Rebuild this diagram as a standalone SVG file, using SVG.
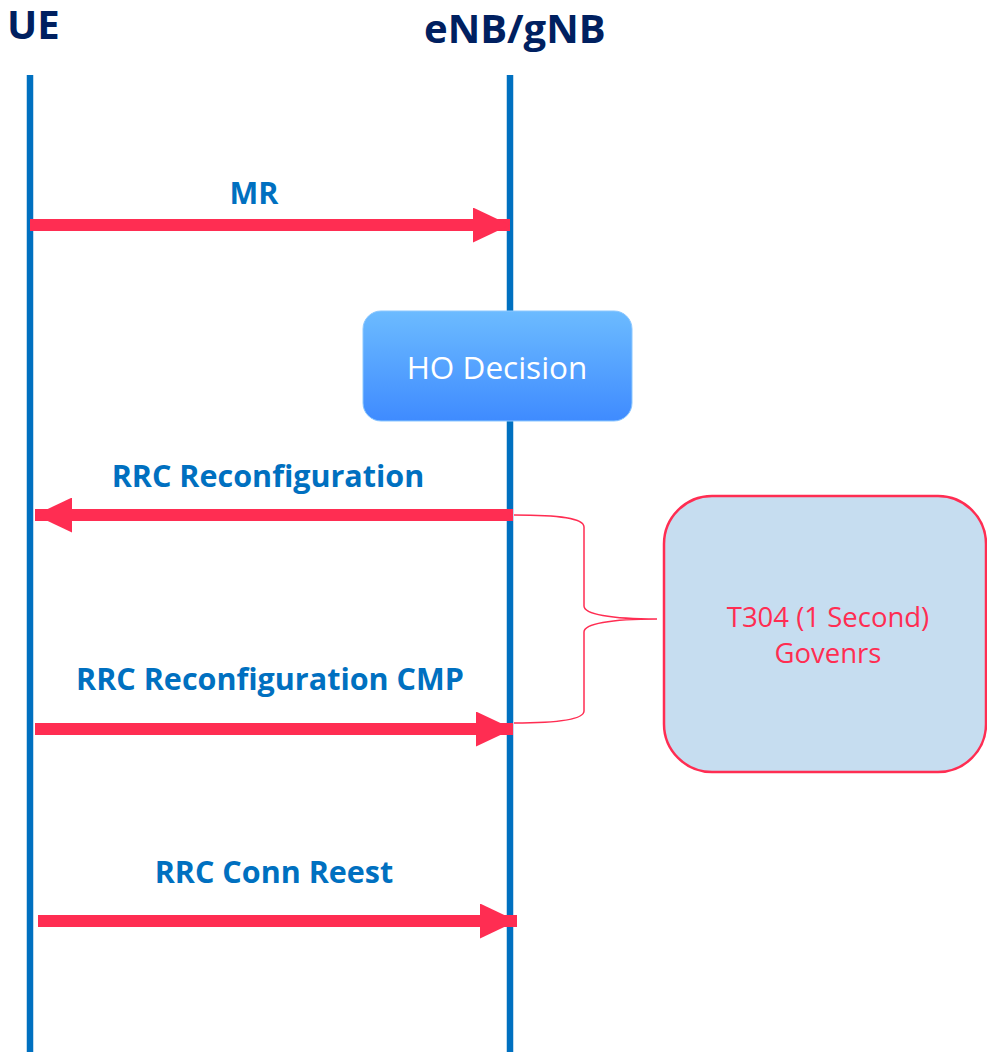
<svg xmlns="http://www.w3.org/2000/svg" width="987" height="1052" viewBox="0 0 987 1052">
<style>
.hdr{font-family:"Open Sans","Liberation Sans",sans-serif;font-weight:bold;font-size:40px;fill:#002060}
.life{stroke:#0070C0;stroke-width:6.5;fill:none}
.msg{stroke:#FF2D52;stroke-width:12;fill:none}
.lbl{font-family:"Open Sans","Liberation Sans",sans-serif;font-weight:bold;font-size:30.5px;fill:#0070C0;text-anchor:middle}
.brace{stroke:#FF2D52;stroke-width:1.5;fill:none}
.ho{font-family:"Open Sans","Liberation Sans",sans-serif;font-size:31.5px;fill:#ffffff;text-anchor:middle}
.t304{font-family:"Open Sans","Liberation Sans",sans-serif;font-size:27.5px;fill:#FF2D52;text-anchor:middle}
</style>
<defs>
<marker id="ah" markerUnits="userSpaceOnUse" markerWidth="37" markerHeight="35" refX="37" refY="17.5" orient="auto">
<path d="M0,0 L37,17.5 L0,35 Z" fill="#FF2D52"/>
</marker>
<linearGradient id="hog" x1="0" y1="0" x2="0" y2="1">
<stop offset="0" stop-color="#6CBBFF"/>
<stop offset="1" stop-color="#3F8BFF"/>
</linearGradient>
</defs>
<g id="ue">
<text class="hdr" x="7" y="39">UE</text>
<line class="life" x1="30" y1="75" x2="30" y2="1052"/>
</g>
<g id="enb">
<text class="hdr" x="424" y="43">eNB/gNB</text>
<line class="life" x1="510" y1="75" x2="510" y2="1052"/>
</g>
<g id="ho-decision">
<rect x="363" y="311" width="269" height="110" rx="18" fill="url(#hog)" stroke="#8CC8FF" stroke-width="1"/>
<text class="ho" x="497" y="379">HO Decision</text>
</g>
<g id="t304">
<rect x="664" y="496" width="322" height="276" rx="48" fill="#C6DDF0" stroke="#FF2D52" stroke-width="2.5"/>
<text class="t304" x="828" y="627">T304 (1 Second)</text>
<text class="t304" x="828" y="663">Govenrs</text>
</g>
<g id="connectors">
<line class="msg" x1="30" y1="225" x2="510" y2="225" marker-end="url(#ah)"/>
<text class="lbl" x="254" y="204">MR</text>
<line class="msg" x1="513" y1="515" x2="35" y2="515" marker-end="url(#ah)"/>
<text class="lbl" x="268" y="487">RRC Reconfiguration</text>
<line class="msg" x1="35" y1="729" x2="513" y2="729" marker-end="url(#ah)"/>
<text class="lbl" x="270" y="690">RRC Reconfiguration CMP</text>
<line class="msg" x1="38" y1="921" x2="517" y2="921" marker-end="url(#ah)"/>
<text class="lbl" x="274" y="883">RRC Conn Reest</text>
<path class="brace" d="M514,515 C560,515 584,518 584,527 L584,606 C584,614 610,619 657,619 C610,619 584,624 584,632 L584,711 C584,719 560,723 514,723"/>
</g>
</svg>
